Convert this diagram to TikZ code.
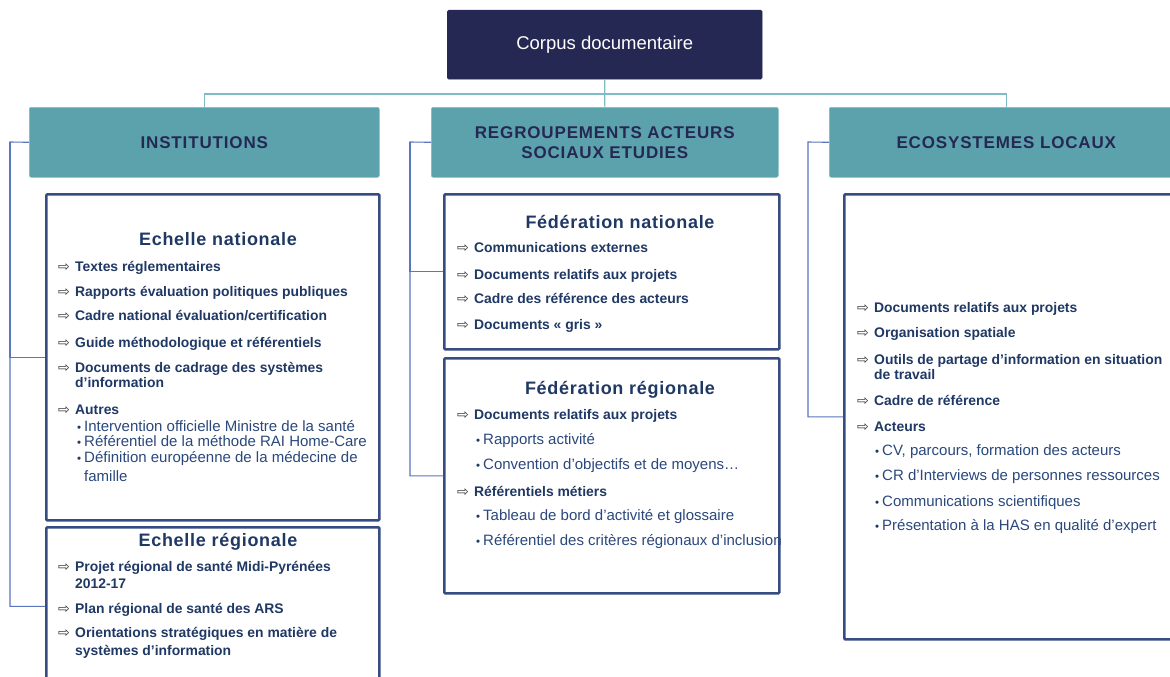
\documentclass[tikz,border=0pt]{standalone}
\usepackage{fontspec}
\setmainfont{Liberation Sans}
\newfontfamily\symfont{DejaVu Sans}
\newfontfamily\spacedfont[LetterSpace=4]{Liberation Sans}
\newfontfamily\hdrfont[LetterSpace=5]{Liberation Sans}
\definecolor{corpusc}{RGB}{38,40,84}
\definecolor{tealc}{RGB}{91,162,173}
\definecolor{tealedge}{RGB}{130,190,198}
\definecolor{hdrtext}{RGB}{38,40,84}
\definecolor{panelc}{RGB}{55,77,130}
\definecolor{titlec}{RGB}{31,56,100}
\definecolor{itemc}{RGB}{31,56,100}
\definecolor{subc}{RGB}{42,72,124}
\definecolor{arrc}{RGB}{50,50,50}
\definecolor{connc}{RGB}{90,118,190}
\definecolor{tconnc}{RGB}{125,188,196}
\tikzset{
  corpus/.style={draw=corpusc, fill=corpusc, rounded corners=1.5pt, text=white,
    font=\fontsize{18.5}{22}\selectfont, anchor=north west, inner sep=0pt},
  header/.style={fill=tealc, draw=tealedge, line width=0.6pt, rounded corners=2pt,
    text=hdrtext, font=\hdrfont\bfseries\fontsize{17}{20}\selectfont, align=center,
    anchor=north west, inner sep=0pt},
  panel/.style={draw=panelc, line width=2.6pt, fill=white, rounded corners=1pt,
    anchor=north west, inner sep=0pt},
  ttl/.style={font=\spacedfont\bfseries\fontsize{18}{20}\selectfont, text=titlec,
    anchor=base, inner sep=0pt},
  itm/.style={font=\bfseries\fontsize{13.9}{16}\selectfont, text=itemc,
    anchor=base west, inner sep=0pt},
  sub/.style={font=\fontsize{15}{17}\selectfont, text=subc, anchor=base west, inner sep=0pt},
  arr/.style={font=\symfont\fontsize{14}{16}\selectfont, text=arrc, anchor=base west, inner sep=0pt},
  bul/.style={font=\fontsize{11.5}{13}\selectfont, text=subc!80!black, anchor=base west, inner sep=0pt},
  conn/.style={draw=connc, line width=1.1pt},
  tconn/.style={draw=tconnc, line width=1.1pt},
}
\newcommand\arrline[4]{\node[arr] (#1-a) at (#2,#3) {⇨}; \node[itm] (#1) at (#2+17,#3) {#4};}
\newcommand\contline[4]{\node[itm] (#1) at (#2+17,#3) {#4};}
\newcommand\subline[4]{\node[bul] (#1-b) at (#2,#3) {•}; \node[sub] (#1) at (#2+7,#3) {#4};}
\begin{document}
\begin{tikzpicture}[x=1pt,y=-1pt]
\useasboundingbox (0,0) rectangle (1170,677);
\clip (0,0) rectangle (1170,677);
\fill[white] (0,0) rectangle (1170,677);

% top and headers
\node[corpus, minimum width=315pt, minimum height=69pt] (corpus) at (447,10) {Corpus documentaire};
\node[header, minimum width=350pt, minimum height=70pt] (inst) at (29,107) {INSTITUTIONS};
\node[header, minimum width=347pt, minimum height=70pt] (reg) at (431,107) {REGROUPEMENTS ACTEURS\\SOCIAUX ETUDIES};
\node[header, minimum width=354pt, minimum height=70pt] (eco) at (829,107) {ECOSYSTEMES LOCAUX};

% panels
\node[panel, minimum width=333pt, minimum height=326pt] (en) at (45,193) {};
\node[panel, minimum width=333pt, minimum height=158pt] (er) at (45,526) {};
\node[panel, minimum width=335pt, minimum height=155pt] (fn) at (443,193) {};
\node[panel, minimum width=335pt, minimum height=235pt] (fr) at (443,357) {};
\node[panel, minimum width=345pt, minimum height=445pt] (eco2) at (843,193) {};

% connectors
\coordinate (bus) at (605,94);
\draw[tconn] (corpus.south) -- (reg.north);
\draw[tconn] (inst.north) |- (bus) -| (eco.north);
\coordinate (lx) at (10,142);
\draw[conn] (inst.west) -- (lx) |- (er.west);
\draw[conn] (lx) |- (en.west);
\coordinate (mx) at (410,142);
\draw[conn] (reg.west) -- (mx) |- (fr.west);
\draw[conn] (mx) |- (fn.west);
\coordinate (rx) at (808,142);
\draw[conn] (eco.west) -- (rx) |- (eco2.west);

% Echelle nationale
\node[ttl] (en-t) at (218,245.7) {Echelle nationale};
\arrline{en1}{58}{271}{Textes réglementaires}
\arrline{en2}{58}{296.7}{Rapports évaluation politiques publiques}
\arrline{en3}{58}{320.7}{Cadre national évaluation/certification}
\arrline{en4}{58}{347.7}{Guide méthodologique et référentiels}
\arrline{en5}{58}{372.3}{Documents de cadrage des systèmes}
\contline{en5b}{58}{387.3}{d’information}
\arrline{en6}{58}{414.3}{Autres}
\subline{en7}{77}{431}{Intervention officielle Ministre de la santé}
\subline{en8}{77}{446.7}{Référentiel de la méthode RAI Home-Care}
\subline{en9}{77}{462.7}{Définition européenne de la médecine de}
\node[sub] (en10) at (84,481.7) {famille};

% Echelle regionale
\node[ttl] (er-t) at (218,546.7) {Echelle régionale};
\arrline{er1}{58}{571}{Projet régional de santé Midi-Pyrénées}
\contline{er1b}{58}{588.3}{2012-17}
\arrline{er2}{58}{613.3}{Plan régional de santé des ARS}
\arrline{er3}{58}{637.3}{Orientations stratégiques en matière de}
\contline{er3b}{58}{655}{systèmes d’information}

% Federation nationale
\node[ttl] (fn-t) at (620,228.3) {Fédération nationale};
\arrline{fn1}{457}{252.3}{Communications externes}
\arrline{fn2}{457}{279}{Documents relatifs aux projets}
\arrline{fn3}{457}{303.3}{Cadre des référence des acteurs}
\arrline{fn4}{457}{329}{Documents « gris »}

% Federation regionale
\node[ttl] (fr-t) at (620,394) {Fédération régionale};
\arrline{fr1}{457}{419}{Documents relatifs aux projets}
\subline{fr2}{476}{444.7}{Rapports activité}
\subline{fr3}{476}{469}{Convention d’objectifs et de moyens…}
\arrline{fr4}{457}{496}{Référentiels métiers}
\subline{fr5}{476}{520}{Tableau de bord d’activité et glossaire}
\subline{fr6}{476}{545}{Référentiel des critères régionaux d’inclusion}

% Ecosystemes locaux
\arrline{ec1}{857}{312.3}{Documents relatifs aux projets}
\arrline{ec2}{857}{337.7}{Organisation spatiale}
\arrline{ec3}{857}{364.3}{Outils de partage d’information en situation}
\contline{ec3b}{857}{379.3}{de travail}
\arrline{ec4}{857}{405}{Cadre de référence}
\arrline{ec5}{857}{431}{Acteurs}
\subline{ec6}{875}{455}{CV, parcours, formation des acteurs}
\subline{ec7}{875}{480}{CR d’Interviews de personnes ressources}
\subline{ec8}{875}{506}{Communications scientifiques}
\subline{ec9}{875}{530}{Présentation à la HAS en qualité d’expert}
\end{tikzpicture}
\end{document}
